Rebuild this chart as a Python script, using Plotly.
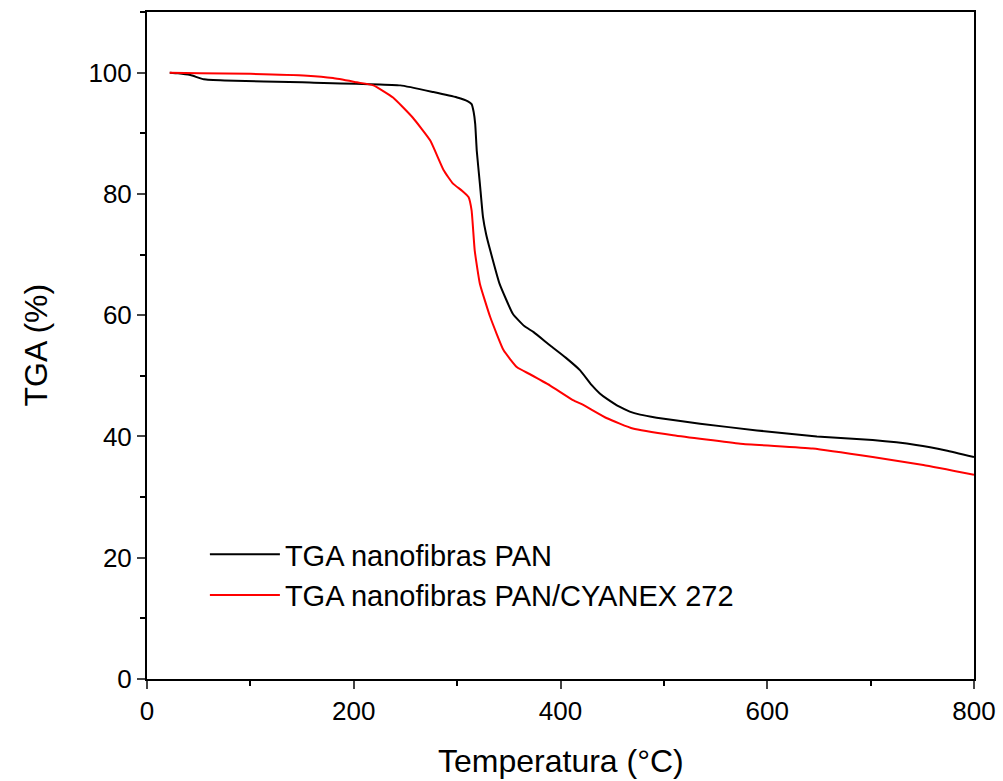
import plotly.graph_objects as go

# PAN nanofibres
t_pan = [22, 30, 42, 55, 75, 150, 245, 277, 300, 310, 314, 316, 317.5, 319, 322, 325, 328, 332,
         341, 354, 365, 374, 390, 405, 419, 430, 438, 445, 457, 467, 477, 493, 535, 590, 648,
         702, 744, 773, 800]
m_pan = [100, 99.9, 99.6, 98.9, 98.7, 98.4, 97.9, 96.8, 95.9, 95.3, 94.8, 93.5, 91.5, 87.1, 81.7,
         76.2, 73.4, 70.7, 65.2, 60.2, 58.2, 57.2, 55.0, 53.0, 50.9, 48.5, 47.1, 46.2, 44.9, 44.1,
         43.6, 43.1, 42.1, 41.0, 40.0, 39.4, 38.6, 37.7, 36.6]

# PAN/CYANEX 272 nanofibres
t_cy = [22, 51, 100, 155, 180, 203, 219, 238, 257, 274, 287, 296, 305, 311, 314, 317, 322, 332,
        345, 358, 370, 390, 412, 422, 445, 470, 509, 574, 644, 702, 751, 800]
m_cy = [100, 99.9, 99.8, 99.5, 99.1, 98.4, 97.9, 95.9, 92.6, 88.8, 83.9, 81.7, 80.5, 79.5, 77.3,
        70.7, 65.2, 59.7, 54.2, 51.4, 50.3, 48.4, 46.0, 45.2, 43.0, 41.3, 40.2, 38.8, 38.0, 36.6,
        35.3, 33.7]

names = ["TGA nanofibras PAN", "TGA nanofibras PAN/CYANEX 272"]
x_ticks = [0, 200, 400, 600, 800]
y_ticks = [0, 20, 40, 60, 80, 100]
x_title = "Temperatura (°C)"
y_title = "TGA (%)"

fig = go.Figure()
fig.add_trace(go.Scatter(x=t_pan, y=m_pan, mode="lines", name=names[0], legendgroup="a",
                         line=dict(color="black", width=2, shape="spline", smoothing=0.4)))
fig.add_trace(go.Scatter(x=t_cy, y=m_cy, mode="lines", name=names[1], legendgroup="b",
                         line=dict(color="#ff0000", width=2, shape="spline", smoothing=0.4)))

font = "Liberation Sans, Arial, sans-serif"
fig.update_layout(
    width=1003, height=781,
    margin=dict(l=147, r=29, t=12, b=102),
    paper_bgcolor="white", plot_bgcolor="white",
    font=dict(family=font, color="black"),
    showlegend=True,
    legend=dict(x=0.07, y=0.225, xanchor="left", yanchor="top", bgcolor="rgba(0,0,0,0)",
                font=dict(size=29, family=font), tracegroupgap=0, itemwidth=70),
    xaxis=dict(range=[0, 800], tickvals=x_ticks, ticks="outside", ticklen=8, tickwidth=2,
               showline=True, linewidth=2, linecolor="black", mirror=True, showgrid=False,
               zeroline=False, tickfont=dict(size=26), automargin=False,
               minor=dict(dtick=100, ticks="outside", ticklen=5, tickwidth=2, tickcolor="black")),
    yaxis=dict(range=[0, 110], tickvals=y_ticks, ticks="outside", ticklen=8, tickwidth=2,
               showline=True, linewidth=2, linecolor="black", mirror=True, showgrid=False,
               zeroline=False, tickfont=dict(size=26), automargin=False,
               minor=dict(dtick=10, ticks="outside", ticklen=5, tickwidth=2, tickcolor="black")),
    annotations=[
        dict(text=x_title, xref="paper", yref="paper", x=0.5, y=-0.123, xanchor="center",
             yanchor="middle", showarrow=False, font=dict(size=32, family=font)),
        dict(text=y_title, xref="paper", yref="paper", x=-0.1354, y=0.5, xanchor="center",
             yanchor="middle", textangle=-90, showarrow=False, font=dict(size=32, family=font)),
    ],
)

fig.write_html("out.html")
